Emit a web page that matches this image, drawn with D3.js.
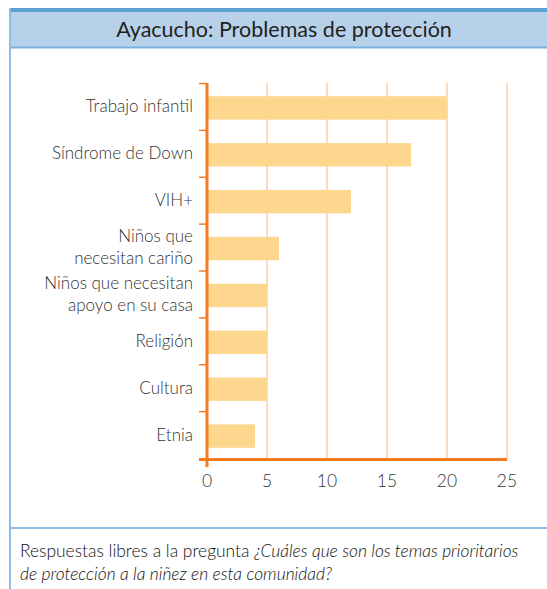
<!DOCTYPE html>
<html><head><meta charset="utf-8">
<script src="https://cdn.jsdelivr.net/npm/d3@7"></script>
<style>
html,body{margin:0;padding:0;background:#fff;}
svg{display:block;}
</style></head>
<body>
<script>
const title = "Ayacucho: Problemas de protección";
const categories = [
  ["Trabajo infantil"],
  ["Síndrome de Down"],
  ["VIH+"],
  ["Niños que", "necesitan cariño"],
  ["Niños que necesitan", "apoyo en su casa"],
  ["Religión"],
  ["Cultura"],
  ["Etnia"]
];
const values = [20, 17, 12, 6, 5, 5, 5, 4];
const xTicks = [0, 5, 10, 15, 20, 25];
const footNormal = "Respuestas libres a la pregunta ";
const footItalic1 = "¿Cuáles que son los temas prioritarios";
const footItalic2 = "de protección a la niñez en esta comunidad?";

const W = 547, H = 589;
const font = "Lato, 'Open Sans', sans-serif";
const svg = d3.select("body").append("svg").attr("width", W).attr("height", H);

// Frame
svg.append("rect").attr("x", 10).attr("y", 10).attr("width", W).attr("height", 37).attr("fill", "#b7d1ea");
svg.append("rect").attr("x", 9).attr("y", 8).attr("width", W).attr("height", 4).attr("fill", "#5aa0d3");
svg.append("line").attr("x1", 10).attr("x2", W).attr("y1", 47.5).attr("y2", 47.5).attr("stroke", "#7ab0de").attr("stroke-width", 2);
svg.append("line").attr("x1", 10).attr("x2", 10).attr("y1", 8).attr("y2", H).attr("stroke", "#8fbde6").attr("stroke-width", 2);
svg.append("line").attr("x1", 10).attr("x2", W).attr("y1", 528).attr("y2", 528).attr("stroke", "#8fbde6").attr("stroke-width", 2);

svg.append("text").attr("x", 284).attr("y", 37).attr("text-anchor", "middle")
  .attr("font-family", font).attr("font-size", 21.5).attr("fill", "#231f20").text(title);

// Scales
const x = d3.scaleLinear().domain([0, 25]).range([207, 507]);
const y = d3.scaleBand().domain(d3.range(categories.length)).range([83, 458]).paddingInner(0.5).paddingOuter(0.25);
const yStep = d3.scaleBand().domain(d3.range(categories.length)).range([83, 458]);

// Gridlines
svg.append("g").selectAll("line").data(xTicks.slice(1)).join("line")
  .attr("x1", d => x(d)).attr("x2", d => x(d)).attr("y1", 83).attr("y2", 459)
  .attr("stroke", "#fcd9c0").attr("stroke-width", 2);

// Bars
svg.append("g").selectAll("rect").data(values).join("rect")
  .attr("x", x(0)).attr("y", (d, i) => y(i) + 1.5)
  .attr("width", d => x(d) - x(0)).attr("height", y.bandwidth())
  .attr("fill", "#fdd78d");

// Axis lines
const orange = "#f47b20";
svg.append("line").attr("x1", 199).attr("x2", 507).attr("y1", 459.5).attr("y2", 459.5).attr("stroke", orange).attr("stroke-width", 3);
svg.append("line").attr("x1", 207).attr("x2", 207).attr("y1", 83).attr("y2", 467).attr("stroke", orange).attr("stroke-width", 3);
// category boundary ticks
const bounds = d3.range(categories.length).map(i => yStep(i));
svg.append("g").selectAll("line").data(bounds).join("line")
  .attr("x1", 199).attr("x2", 207).attr("y1", d => d + 0.5).attr("y2", d => d + 0.5)
  .attr("stroke", orange).attr("stroke-width", 1.5);

// X tick labels
svg.append("g").selectAll("text").data(xTicks).join("text")
  .attr("x", d => x(d)).attr("y", 487).attr("text-anchor", "middle")
  .attr("font-family", font).attr("font-weight", 300).attr("font-size", 17.5).attr("fill", "#333").text(d => d);

// Category labels
const lab = svg.append("g").selectAll("text").data(categories).join("text")
  .attr("text-anchor", "end").attr("font-family", font).attr("font-weight", 300).attr("font-size", 17).attr("fill", "#333")
  .attr("y", (d, i) => yStep(i) + yStep.bandwidth() / 2 + 6 - (d.length - 1) * 11);
lab.selectAll("tspan").data(d => d).join("tspan")
  .attr("x", 193).attr("dy", (d, j) => j === 0 ? 0 : 22).text(d => d);

// Footer
const ft = svg.append("text").attr("x", 20).attr("y", 557).attr("font-family", font).attr("font-weight", 300).attr("font-size", 17.4).attr("fill", "#111");
ft.append("tspan").text(footNormal);
ft.append("tspan").attr("font-style", "italic").text(footItalic1);
svg.append("text").attr("x", 20).attr("y", 580).attr("font-family", font).attr("font-weight", 300).attr("font-size", 17.4).attr("fill", "#111")
  .attr("font-style", "italic").text(footItalic2);
</script>
</body></html>
